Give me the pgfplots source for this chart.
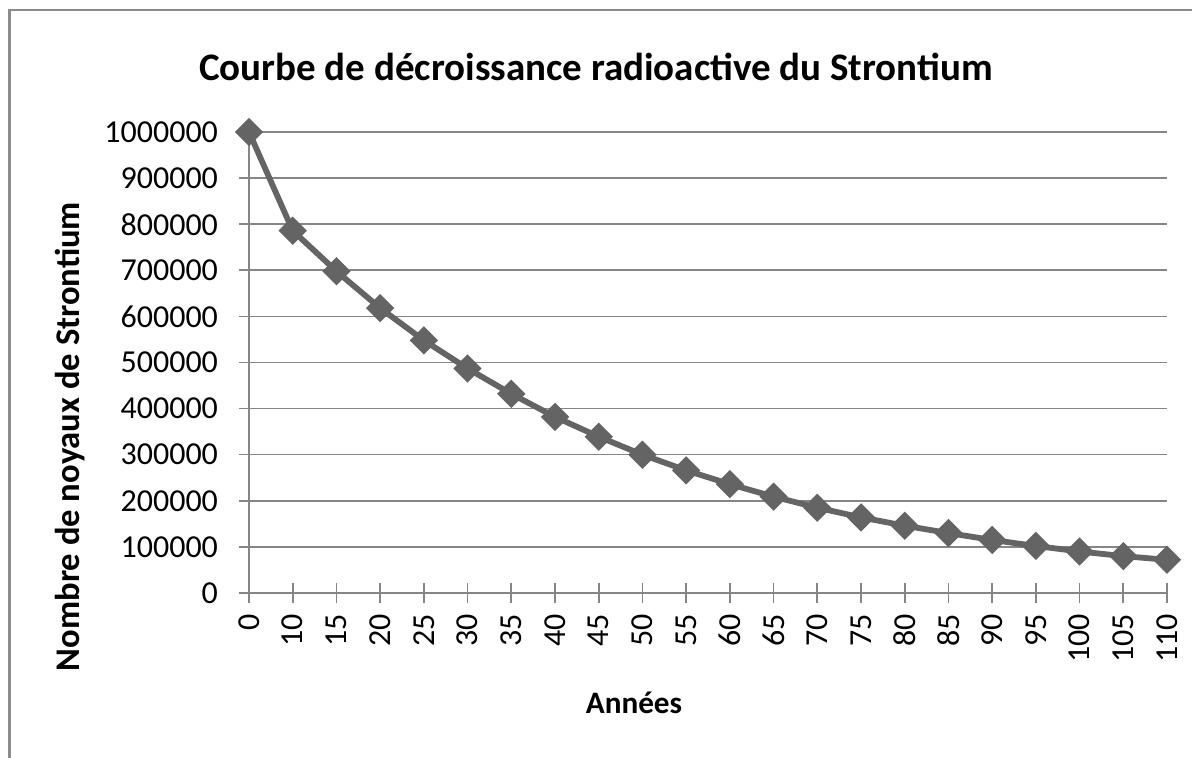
\documentclass[border=0pt]{standalone}
\usepackage{pgfplots}
\pgfplotsset{compat=1.18}
\usepackage{fontspec}
\setmainfont{Carlito}
\definecolor{linegray}{RGB}{100,100,100}
\definecolor{gridgray}{RGB}{134,134,134}
\definecolor{framegray}{RGB}{140,140,140}
\begin{document}
\begin{tikzpicture}
\useasboundingbox (0,0) rectangle (596pt,379pt);
\draw[framegray,line width=1.3pt] (4.75pt,0) -- (4.75pt,374pt) -- (596pt,374pt);
\node[font=\bfseries\fontsize{19.5}{22}\selectfont] at (298pt,345.5pt) {Courbe de décroissance radioactive du Strontium};
\begin{axis}[
  at={(124.5pt,82.5pt)}, anchor=south west,
  scale only axis, width=459pt, height=230.5pt,
  xmin=0, xmax=21, ymin=0, ymax=1000000,
  axis x line*=bottom, axis y line*=left,
  axis line style={gridgray, line width=0.9pt, -},
  xtick={0,...,21},
  xticklabels={0,10,15,20,25,30,35,40,45,50,55,60,65,70,75,80,85,90,95,100,105,110},
  ytick={0,100000,...,1000000},
  ymajorgrids, major grid style={gridgray, line width=0.8pt},
  major tick style={gridgray, line width=0.8pt},
  major tick length=10pt, tick align=center,
  scaled y ticks=false,
  /pgf/number format/.cd, fixed, precision=0, set thousands separator={}, assume math mode=true,
  /pgfplots/.cd,
  ticklabel style={font=\fontsize{16}{18}\selectfont},
  xticklabel style={rotate=90, anchor=east, yshift=0pt, xshift=-2pt},
  yticklabel style={xshift=-7pt},
  xlabel={\bfseries Années},
  ylabel={\bfseries Nombre de noyaux de Strontium},
  xlabel style={font=\bfseries\fontsize{15.6}{17}\selectfont, at={(axis description cs:0.5,0)}, anchor=center, yshift=-55pt, xshift=-37pt},
  ylabel style={font=\bfseries\fontsize{17.3}{19}\selectfont, at={(axis description cs:0,0.5)}, anchor=center, yshift=89.5pt, xshift=-37pt},
  clip=false,
]
\addplot[linegray, line width=2.9pt, mark=square*, mark size=4.6pt,
  mark options={rotate=45, fill=linegray, draw=linegray, line width=0.8pt}]
coordinates {
(0,1000000) (1,786000) (2,698000) (3,618000) (4,548000) (5,487000)
(6,432000) (7,382000) (8,339000) (9,300000) (10,266000) (11,236000)
(12,209000) (13,185000) (14,164000) (15,146000) (16,130000) (17,115000)
(18,102000) (19,90000) (20,80000) (21,72000)
};
\end{axis}
\end{tikzpicture}
\end{document}
